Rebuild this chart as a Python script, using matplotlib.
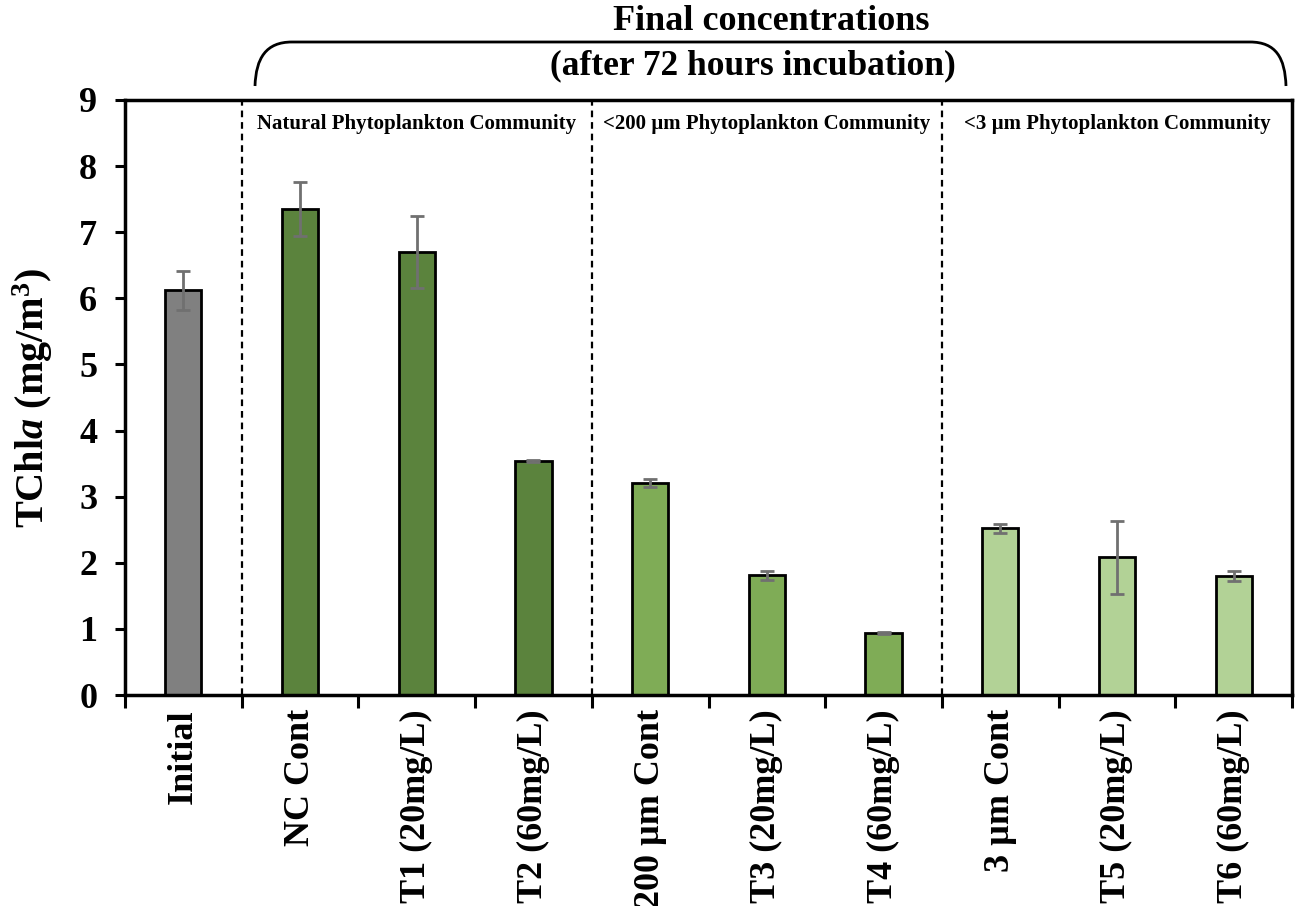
import matplotlib
matplotlib.use("Agg")
import matplotlib.pyplot as plt
from matplotlib.path import Path
from matplotlib.patches import PathPatch
import numpy as np

plt.rcParams["font.family"] = ["Liberation Serif", "DejaVu Serif"]
plt.rcParams["font.weight"] = "bold"
plt.rcParams["mathtext.fontset"] = "custom"
plt.rcParams["mathtext.rm"] = "Liberation Serif:bold"
plt.rcParams["mathtext.it"] = "Liberation Serif:bold:italic"
plt.rcParams["mathtext.bf"] = "Liberation Serif:bold"

# Data
categories = ["Initial", "NC Cont", "T1 (20mg/L)", "T2 (60mg/L)",
              "200 µm Cont", "T3 (20mg/L)", "T4 (60mg/L)",
              "3 µm Cont", "T5 (20mg/L)", "T6 (60mg/L)"]
tchla = [6.12, 7.35, 6.70, 3.54, 3.20, 1.81, 0.94, 2.52, 2.08, 1.80]
tchla_sd = [0.29, 0.41, 0.55, 0.01, 0.06, 0.07, 0.01, 0.07, 0.55, 0.07]
groups = ["Natural Phytoplankton Community",
          "<200 µm Phytoplankton Community",
          "<3 µm Phytoplankton Community"]
group_members = [[1, 2, 3], [4, 5, 6], [7, 8, 9]]

bar_colors = ["#808080",
              "#5b833d", "#5b833d", "#5b833d",
              "#7fac56", "#7fac56", "#7fac56",
              "#b2d296", "#b2d296", "#b2d296"]

fig = plt.figure(figsize=(12.98, 9.06), dpi=100)
ax = fig.add_axes([125 / 1298, 1 - 695 / 906, 1167 / 1298, 595 / 906])

x = np.arange(len(categories))
ax.bar(x, tchla, width=0.31, color=bar_colors, edgecolor="black",
       linewidth=2, zorder=2)
ax.errorbar(x, tchla, yerr=tchla_sd, fmt="none", ecolor="#707070",
            elinewidth=2, capsize=5, capthick=2, zorder=3)

ax.set_xlim(-0.5, len(categories) - 0.5)
ax.set_ylim(0, 9)
ax.set_yticks(range(0, 10))
ax.tick_params(axis="y", labelsize=26, width=2.2, length=7, pad=13,
               direction="out")

# Category labels centred under bars, ticks at the category boundaries
ax.set_xticks(x)
ax.set_xticklabels(categories, rotation=90, fontsize=26, fontweight="bold",
                   va="top", ha="center")
ax.tick_params(axis="x", which="major", length=0, pad=10)
ax.set_xticks(np.arange(-0.5, len(categories)), minor=True)
ax.tick_params(axis="x", which="minor", length=9, width=2.2,
               direction="out")

for s in ax.spines.values():
    s.set_linewidth(2.5)

# Dashed separators between treatment groups
for b in [0.5, 3.5, 6.5]:
    ax.axvline(b, color="black", linestyle=(0, (3, 2.2)), linewidth=1.6,
               zorder=1)

for name, members in zip(groups, group_members):
    ax.text(np.mean(members), 8.63, name, ha="center", va="center",
            fontsize=15, fontweight="bold")

ax.set_ylabel(r"TChl$\mathit{a}$ (mg/m$^{3}$)", fontsize=29,
              fontweight="bold", labelpad=17)

# Bracket over the final-concentration groups
W, H = 1298.0, 906.0
def fp(px, py):
    return (px / W, 1 - py / H)

verts = [fp(255, 86), fp(256, 58), fp(266, 42), fp(292, 42),
         fp(1250, 42),
         fp(1276, 42), fp(1285, 58), fp(1286, 86)]
codes = [Path.MOVETO, Path.CURVE4, Path.CURVE4, Path.CURVE4,
         Path.LINETO,
         Path.CURVE4, Path.CURVE4, Path.CURVE4]
fig.patches.append(PathPatch(Path(verts, codes), transform=fig.transFigure,
                             facecolor="none", edgecolor="black",
                             linewidth=2))

fig.text(771 / W, 1 - 22 / H, "Final concentrations", ha="center",
         va="center", fontsize=26, fontweight="bold")
fig.text(753 / W, 1 - 66 / H, "(after 72 hours incubation)", ha="center",
         va="center", fontsize=25.5, fontweight="bold")

fig.savefig("out.png", dpi=100, facecolor="white")
